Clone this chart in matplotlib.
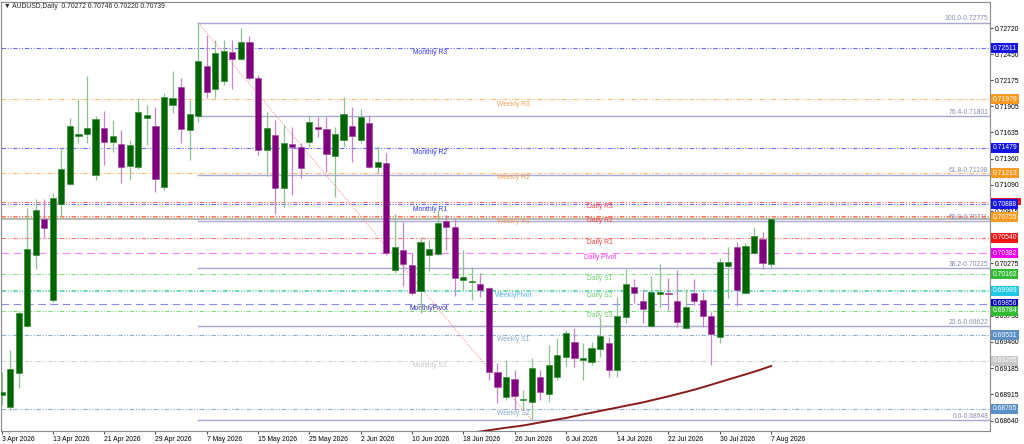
import numpy as np
import pandas as pd
import matplotlib
matplotlib.use("Agg")
import matplotlib.pyplot as plt
from matplotlib.patches import Rectangle
from matplotlib.transforms import blended_transform_factory

plt.rcParams['font.family'] = ['Liberation Sans', 'DejaVu Sans']

# ==========================
# Data
# ==========================
symbol = "AUDUSD,Daily"
dates = pd.bdate_range("2026-04-03", "2026-08-07")

opens = [0.68909, 0.68785, 0.69138, 0.69626, 0.70363, 0.70737, 0.69896, 0.70892, 0.71100, 0.71599,
         0.71619, 0.71194, 0.71682, 0.71536, 0.71516, 0.71287, 0.71277, 0.71785, 0.71702, 0.71069,
         0.71920, 0.72107, 0.71661, 0.71806, 0.72326, 0.72087, 0.72170, 0.72471, 0.72398, 0.72575,
         0.72201, 0.71453, 0.71609, 0.71059, 0.71516, 0.71484, 0.71536, 0.71692, 0.71671, 0.71391,
         0.71557, 0.71702, 0.71557, 0.71734, 0.71277, 0.71318, 0.70207, 0.70415, 0.70259, 0.69989,
         0.70363, 0.70373, 0.70716, 0.70654, 0.70103, 0.70083, 0.70062, 0.70020, 0.69148, 0.68888,
         0.69075, 0.68857, 0.68836, 0.69096, 0.68920, 0.69096, 0.69304, 0.69459, 0.69273, 0.69252,
         0.69387, 0.69449, 0.69169, 0.69719, 0.70031, 0.69885, 0.69626, 0.69958, 0.69968, 0.69885,
         0.69605, 0.69968, 0.69896, 0.69730, 0.69511, 0.70249, 0.70446, 0.69968, 0.70384, 0.70529,
         0.70272]
closes = [0.68940, 0.69179, 0.69761, 0.70425, 0.70830, 0.70643, 0.70955, 0.71256, 0.71702, 0.71619,
          0.71682, 0.71775, 0.71536, 0.71599, 0.71277, 0.71505, 0.71848, 0.71817, 0.71152, 0.72004,
          0.71993, 0.71671, 0.71827, 0.72377, 0.72055, 0.72460, 0.72481, 0.72398, 0.72575, 0.72201,
          0.71453, 0.71682, 0.71059, 0.71526, 0.71484, 0.71266, 0.71744, 0.71671, 0.71412, 0.71619,
          0.71827, 0.71599, 0.71796, 0.71277, 0.71329, 0.70384, 0.70446, 0.70269, 0.69968, 0.70498,
          0.70425, 0.70695, 0.70654, 0.70124, 0.70134, 0.70093, 0.69999, 0.69148, 0.68992, 0.69096,
          0.68899, 0.68868, 0.69190, 0.68940, 0.69221, 0.69325, 0.69553, 0.69293, 0.69293, 0.69397,
          0.69522, 0.69169, 0.69730, 0.70062, 0.69968, 0.69802, 0.69979, 0.69979, 0.69958, 0.69667,
          0.69823, 0.69885, 0.69730, 0.69543, 0.70290, 0.70290, 0.69999, 0.70456, 0.70560, 0.70280,
          0.70739]
highs = [0.69148, 0.69376, 0.69781, 0.70851, 0.70944, 0.70944, 0.71007, 0.71474, 0.71785, 0.71983,
         0.72222, 0.71806, 0.71858, 0.71765, 0.71661, 0.71557, 0.71993, 0.71920, 0.71900, 0.72045,
         0.72274, 0.72201, 0.71972, 0.72775, 0.72647, 0.72595, 0.72595, 0.72595, 0.72720, 0.72637,
         0.72232, 0.71848, 0.71765, 0.71713, 0.71692, 0.71526, 0.71817, 0.71796, 0.71796, 0.71692,
         0.72004, 0.71900, 0.71879, 0.71817, 0.71495, 0.71422, 0.70789, 0.70706, 0.70384, 0.70550,
         0.70519, 0.70830, 0.70778, 0.70747, 0.70415, 0.70238, 0.70176, 0.70031, 0.69242, 0.69273,
         0.69169, 0.68961, 0.69293, 0.69169, 0.69428, 0.69501, 0.69584, 0.69605, 0.69449, 0.69459,
         0.69709, 0.69511, 0.69927, 0.70218, 0.70114, 0.70010, 0.70145, 0.70269, 0.70124, 0.70207,
         0.70010, 0.70114, 0.69979, 0.69771, 0.70332, 0.70446, 0.70498, 0.70488, 0.70654, 0.70602,
         0.70746]
lows = [0.68805, 0.68753, 0.68982, 0.69615, 0.70218, 0.70539, 0.69875, 0.70758, 0.71090, 0.71526,
        0.71526, 0.71142, 0.71297, 0.71432, 0.71110, 0.71142, 0.71256, 0.71505, 0.71017, 0.71038,
        0.71837, 0.71526, 0.71349, 0.71744, 0.71993, 0.71993, 0.72128, 0.72087, 0.72388, 0.72180,
        0.71401, 0.71183, 0.70789, 0.70861, 0.70986, 0.71162, 0.71484, 0.71588, 0.71225, 0.70965,
        0.71484, 0.71329, 0.71526, 0.71266, 0.71214, 0.70363, 0.70176, 0.70041, 0.69948, 0.69761,
        0.70197, 0.70363, 0.70415, 0.69937, 0.69999, 0.69896, 0.69927, 0.69065, 0.68826, 0.68857,
        0.68753, 0.68753, 0.68648, 0.68857, 0.68836, 0.69065, 0.69210, 0.69200, 0.69065, 0.69221,
        0.69304, 0.69096, 0.69096, 0.69657, 0.69864, 0.69657, 0.69615, 0.69812, 0.69792, 0.69615,
        0.69594, 0.69844, 0.69615, 0.69221, 0.69449, 0.69916, 0.69833, 0.69958, 0.70373, 0.70218,
        0.70220]

# moving average, visible part only (bars 53..90)
ma_start = 53
ma_values = [0.68494, 0.68504, 0.68520, 0.68530, 0.68543, 0.68556, 0.68569, 0.68580, 0.68592, 0.68608,
             0.68624, 0.68639, 0.68655, 0.68670, 0.68689, 0.68708, 0.68725, 0.68743, 0.68761, 0.68778,
             0.68797, 0.68814, 0.68832, 0.68853, 0.68874, 0.68895, 0.68918, 0.68940, 0.68964, 0.68989,
             0.69016, 0.69043, 0.69070, 0.69096, 0.69123, 0.69150, 0.69179, 0.69210]

# pivot levels
level_names = ["Monthly R3", "Weekly R3", "Monthly R2", "Weekly R2", "Daily R3", "Monthly R1",
               "Daily R2", "Weekly R1", "Daily R1", "Daily Pivot", "Daily S1", "Daily S2",
               "WeeklyPivot", "MonthlyPivot", "Daily S3", "Weekly S1", "Monthly S1", "Weekly S2"]
level_values = [0.72511, 0.71979, 0.71479, 0.71213, 0.70918, 0.70888,
                0.70770, 0.70755, 0.70540, 0.70382, 0.70162, 0.69995,
                0.69989, 0.69856, 0.69784, 0.69531, 0.69265, 0.68765]
# price boxes covered by another box in the chart (only a sliver or nothing shows)
hidden_boxes = ["Daily R2", "Daily S2"]
sliver_boxes = ["Daily R3"]

# fibonacci retracement (drawn from the May high to the June low)
fib_high_bar, fib_low_bar = 23, 62
fib_pcts = ["100.0", "76.4", "61.8", "50.0", "38.2", "23.6", "0.0"]
fib_values = [0.72775, 0.71801, 0.71198, 0.70711, 0.70225, 0.69622, 0.68648]

price_ticks = [0.72720, 0.72450, 0.72175, 0.71905, 0.71635, 0.71360, 0.71090, 0.70815,
               0.70545, 0.70275, 0.70005, 0.69730, 0.69460, 0.69185, 0.68915, 0.68640]
covered_ticks = [0.70545, 0.70005]

# ==========================
# Styles
# ==========================
level_style = {
    "Monthly": ("#6a6aff", "#3a3aff", "#1414e6"),
    "WeeklyR": ("#ffb870", "#f5a050", "#ff9a1f"),
    "DailyR": ("#ff7070", "#ff4040", "#f01414"),
    "DailyPivot": ("#ff80ff", "#ee33ee", "#ee00ee"),
    "DailyS": ("#80dd80", "#70d070", "#33bb33"),
    "WeeklyPivot": ("#60d8ec", "#5ab4ec", "#1ec8e6"),
    "MonthlyPivot": ("#8c8cf0", "#3030b0", "#0000b4"),
    "WeeklyS": ("#90aed0", "#8aaad0", "#5a8fc8"),
    "MonthlyS": ("#d0d0d0", "#c4c4c4", "#c8c8c8"),
}


def style_key(name):
    if name == "Daily Pivot":
        return "DailyPivot"
    if name in ("WeeklyPivot", "MonthlyPivot"):
        return name
    if name.startswith("Monthly"):
        return "MonthlyS" if " S" in name else "Monthly"
    if name.startswith("Weekly"):
        return "WeeklyS" if " S" in name else "WeeklyR"
    return "DailyS" if " S" in name else "DailyR"


dashdot = (0, (4, 1.5, 1, 1.5, 1, 1.5))
longdash = (0, (7, 4))
fs = 4.9

# ==========================
# Figure
# ==========================
fig = plt.figure(figsize=(10.24, 4.44), dpi=100)
ax = fig.add_axes([1 / 1024, 13 / 444, 989 / 1024, 429 / 444])
ax.set_xlim(-0.06, 115.6)
ax.set_ylim(0.68535, 0.72990)
x = np.arange(len(dates))

# level lines + labels
label_bar = {"Monthly": 48.1, "Weekly": 58.0, "Daily": 68.5}
for name, val in zip(level_names, level_values):
    key = style_key(name)
    lc, tc, bc = level_style[key]
    ls = longdash if "Pivot" in name and name != "WeeklyPivot" else dashdot
    ax.axhline(val, color=lc, lw=0.8, ls=ls, zorder=1)
    for k, b in label_bar.items():
        if name.startswith(k):
            xb = b - (0.35 if "Pivot" in name else 0)
    ax.text(xb, val - 0.00012, name, color=tc, fontsize=fs, va="top", ha="left", zorder=2)

# fibonacci
for pct, val in zip(fib_pcts, fib_values):
    ax.plot([fib_high_bar, 200], [val, val], color="#a8a8d4", lw=1.0, zorder=1)
    ax.text(115.4, val + 0.00003, f"{pct}-{val:.5f}", color="#8c8cb4", fontsize=fs,
            ha="right", va="bottom", zorder=2)
ax.plot([fib_high_bar, fib_low_bar], [fib_values[0], fib_values[-1]], color="#ff8c8c",
        lw=0.8, ls=(0, (1, 1.5)), zorder=1)

# bid line
ax.axhline(closes[-1], color="#a6a6a6", lw=1.1, zorder=1)

# candles
o = np.array(opens); c = np.array(closes); h = np.array(highs); l = np.array(lows)
up = c >= o
ax.vlines(x[up], l[up], h[up], color="#8fc08f", lw=0.9, zorder=3)
ax.vlines(x[~up], l[~up], h[~up], color="#c884c8", lw=0.9, zorder=3)
ax.bar(x[up], c[up] - o[up], bottom=o[up], width=0.72, color="#006400",
       edgecolor="#3c8c3c", lw=0.5, zorder=4)
ax.bar(x[~up], c[~up] - o[~up], bottom=o[~up], width=0.72, color="#800080",
       edgecolor="#a050a0", lw=0.5, zorder=4)

# moving average
ax.plot(np.arange(ma_start, ma_start + len(ma_values)), ma_values, color="#8b1a1a", lw=1.4, zorder=5)

# axes styling
for side in ("left", "top", "right", "bottom"):
    ax.spines[side].set_color("#8a8a8a")
    ax.spines[side].set_linewidth(0.8)
ax.yaxis.tick_right()
ax.set_yticks(price_ticks)
ax.set_yticklabels(["" if t in covered_ticks else f"{t:.5f}" for t in price_ticks])
ax.tick_params(axis="y", length=2, pad=1.5, labelsize=fs, color="#555555")
tick_idx = list(range(0, len(dates), 6))
ax.set_xticks(tick_idx)
ax.set_xticklabels([f"{dates[i].day} {dates[i].strftime('%b %Y')}" for i in tick_idx])
ax.tick_params(axis="x", length=2, pad=1.5, labelsize=fs, color="#555555")
for lbl in ax.get_xticklabels():
    lbl.set_ha("left")

# price boxes on the right axis
tr = blended_transform_factory(ax.transAxes, ax.transData)
for name, val in zip(level_names, level_values):
    if name in hidden_boxes:
        continue
    bc = level_style[style_key(name)][2]
    if name in sliver_boxes:
        ax.add_patch(Rectangle((1.001, val - 0.00034), 0.0305, 0.00068, transform=tr,
                               fc=bc, ec="none", clip_on=False, zorder=9))
        continue
    ax.text(1.0025, val, f"{val:.5f}", transform=tr, color="white", fontsize=fs,
            ha="left", va="center", clip_on=False, zorder=10,
            bbox=dict(boxstyle="square,pad=0.22", fc=bc, ec="none"))

# header
fig.text(4 / 1024, 1 - 7 / 444, f"\u25bc {symbol}  {opens[-1]:.5f} {highs[-1]:.5f} {lows[-1]:.5f} {closes[-1]:.5f}",
         fontsize=fs, va="center", ha="left", color="#222222")

fig.savefig("out.png", dpi=100, facecolor="white")
